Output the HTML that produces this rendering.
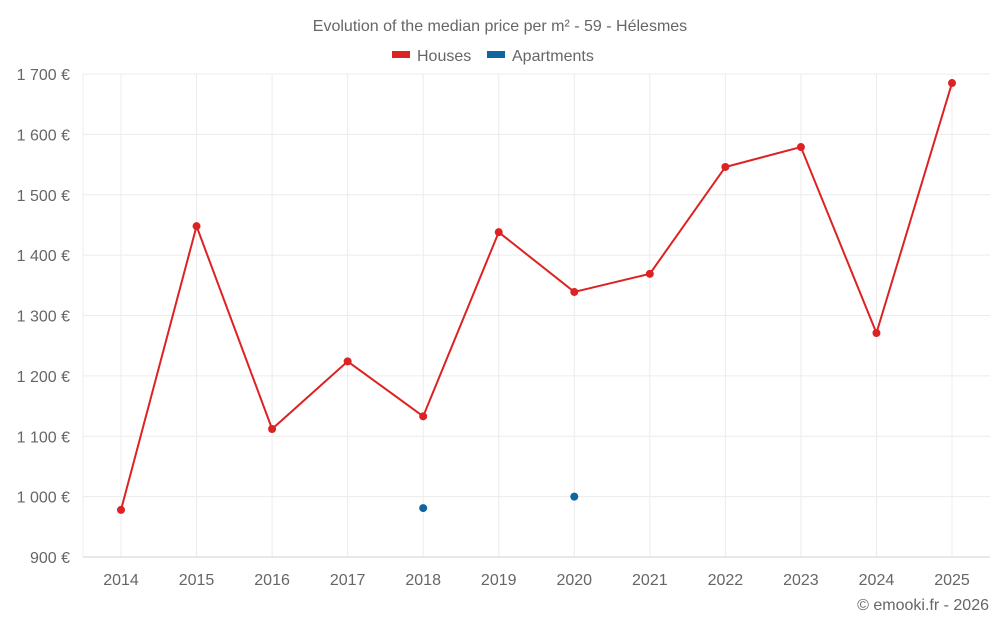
<!DOCTYPE html>
<html><head><meta charset="utf-8"><style>
body{margin:0;background:#fff;font-family:"Liberation Sans",sans-serif;}
svg text{font-family:"Liberation Sans",sans-serif;fill:#666;}
</style></head><body>
<svg id="chart" width="1000" height="625">
<text x="500" y="31" text-anchor="middle" font-size="16">Evolution of the median price per m² - 59 - Hélesmes</text>
<g>
<g><rect x="392" y="51" width="18" height="7" fill="#dc2222"/><text x="417" y="61" font-size="16">Houses</text></g>
<g><rect x="487" y="51" width="18" height="7" fill="#0d66a0"/><text x="512" y="61" font-size="16">Apartments</text></g>
</g>
<g id="grid"></g><g id="axes"></g><g id="marks"></g>
<text x="989" y="610" text-anchor="end" font-size="16">© emooki.fr - 2026</text>
</svg>
<script>
const years=[2014,2015,2016,2017,2018,2019,2020,2021,2022,2023,2024,2025];
const houses=[978,1448,1112,1224,1133,1438,1339,1369,1546,1579,1271,1685];
const apartments=[null,null,null,null,981,null,1000,null,null,null,null,null];
const yTicks=[900,1000,1100,1200,1300,1400,1500,1600,1700];
const yLabels=["900 €","1 000 €","1 100 €","1 200 €","1 300 €","1 400 €","1 500 €","1 600 €","1 700 €"];
const NS="http://www.w3.org/2000/svg";
const L=83,R=990,T=74,B=557;
const X=i=>121+i*(952-121)/11;
const Y=v=>B-(v-900)*(B-T)/800;
function mk(p,t,a){const e=document.createElementNS(NS,t);for(const k in a)e.setAttribute(k,a[k]);p.appendChild(e);return e;}
const g=document.getElementById('grid'),ax=document.getElementById('axes'),m=document.getElementById('marks');
mk(g,'line',{x1:L,x2:L,y1:T,y2:B,stroke:'#ececec'});
years.forEach((y,i)=>{
 const l=mk(g,'line',{x1:X(i),x2:X(i),y1:T,y2:B,stroke:'#ececec'});
 
 
 const t=mk(ax,'text',{x:X(i),y:585,'text-anchor':'middle','font-size':16});
 t.textContent=y;
 
 
});
yTicks.forEach((v,i)=>{
 const l=mk(g,'line',{x1:L-12*(i==0?1:0)+ (i==0?12:0),x2:R,y1:Y(v),y2:Y(v),stroke:i==0?'#d0d0d0':'#ececec'});
 
 
 const t=mk(ax,'text',{x:70,y:Y(v)+6,'text-anchor':'end','font-size':16});
 t.textContent=yLabels[i];
 
 
});
const p=mk(m,'polyline',{points:houses.map((v,i)=>X(i)+','+Y(v)).join(' '),fill:'none',stroke:'#dc2222','stroke-width':2});


houses.forEach((v,i)=>{
 const c=mk(m,'circle',{cx:X(i),cy:Y(v),r:4,fill:'#dc2222'});
 
 
});
apartments.forEach((v,i)=>{if(v==null)return;
 const c=mk(m,'circle',{cx:X(i),cy:Y(v),r:4,fill:'#0d66a0'});
 
 
});
</script>
</body></html>
